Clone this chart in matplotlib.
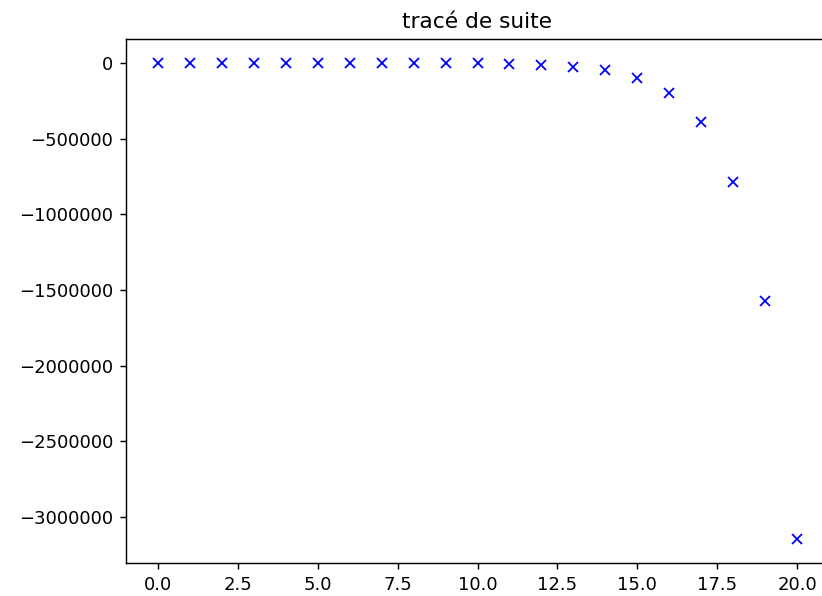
import matplotlib
matplotlib.use('Agg')
import matplotlib.pyplot as plt

# terms of the sequence
n_values = list(range(21))
u_values = [-3, -6, -12, -24, -48, -96, -192, -384, -768, -1536, -3072,
            -6144, -12288, -24576, -49152, -98304, -196608, -393216,
            -786432, -1572864, -3145728]

W, H, DPI = 822, 596, 130
fig = plt.figure(figsize=(W / DPI, H / DPI), dpi=DPI)
# axes runs slightly past the right edge, as in the cropped original
ax = fig.add_axes([126 / W, (H - 563) / H, (829 - 126) / W, (563 - 39) / H])

ax.plot(n_values, u_values, 'bx')
ax.set_title('tracé de suite')
ax.ticklabel_format(style='plain', axis='y', useOffset=False)

fig.savefig('out.png', dpi=DPI)
